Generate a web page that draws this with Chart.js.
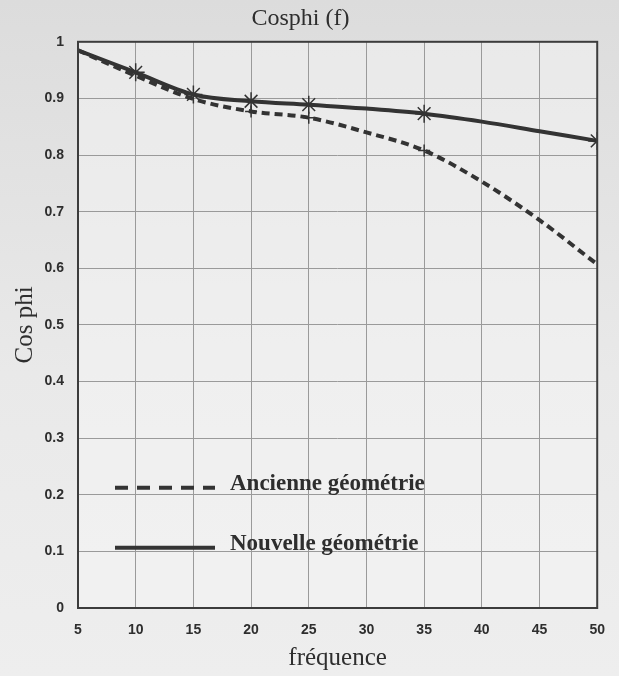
<!DOCTYPE html>
<html>
<head>
<meta charset="utf-8">
<script src="https://cdn.jsdelivr.net/npm/chart.js@4"></script>
<style>
  html, body { margin: 0; padding: 0; }
  body { background: linear-gradient(#dcdcdc, #e9e9e9 55%, #eeeeee); width: 619px; height: 676px; }
  canvas { display: block; }
</style>
</head>
<body>
<canvas id="chart" width="619" height="676"></canvas>
<script>
// frequencies (x) and cos phi values
const freq = [5, 10, 15, 20, 25, 30, 35, 40, 45, 50]
const nouvelle = [0.985, 0.946, 0.907, 0.895, 0.889, 0.882, 0.873, 0.859, 0.842, 0.825]
const ancienne = [0.985, 0.940, 0.899, 0.877, 0.866, 0.840, 0.808, 0.753, 0.685, 0.607]
// frequencies where a marker is drawn
const markedNouvelle = [10, 15, 20, 25, 35, 50]
const markedAncienne = [20, 25, 35]
const xTicks = [5, 10, 15, 20, 25, 30, 35, 40, 45, 50]
const yTicks = [0, 0.1, 0.2, 0.3, 0.4, 0.5, 0.6, 0.7, 0.8, 0.9, 1]

const ink = "#2e2e2e"
const serif = "'Liberation Serif', 'DejaVu Serif', serif"
const tickFont = { family: "'Liberation Sans', sans-serif", size: 14, weight: "bold" }

function points(values){
    return values.map((v, i) => ({x: freq[i], y: v}))
}

// plot area fill + frame on all four sides
const frame = {
    id: "frame",
    beforeDraw(chart){
        const a = chart.chartArea, c = chart.ctx
        c.save()
        c.fillStyle = "rgba(246,246,246,0.5)"
        c.fillRect(a.left, a.top, a.right - a.left, a.bottom - a.top)
        c.restore()
    },
    afterDraw(chart){
        const a = chart.chartArea, c = chart.ctx
        c.save()
        c.strokeStyle = "#3c3c3c"
        c.lineWidth = 2
        c.strokeRect(a.left, a.top, a.right - a.left, a.bottom - a.top)
        c.restore()
    }
}

// legend drawn inside the plot, lower left
const insideLegend = {
    id: "insideLegend",
    afterDatasetsDraw(chart){
        const a = chart.chartArea, c = chart.ctx
        const rows = [446, 506]
        c.save()
        chart.data.datasets.forEach((ds, i) => {
            const y = a.top + rows[i]
            c.strokeStyle = ds.borderColor
            c.lineWidth = 4
            c.setLineDash(ds.borderDash ? [13, 9] : [])
            c.beginPath()
            c.moveTo(a.left + 37, y)
            c.lineTo(a.left + 137, y)
            c.stroke()
            c.setLineDash([])
            c.fillStyle = ink
            c.font = "bold 23px " + serif
            c.textBaseline = "middle"
            c.fillText(ds.label, a.left + 152, y - 4)
        })
        c.restore()
    }
}

new Chart(document.getElementById("chart"), {
    type: "line",
    data: {
        datasets: [{
            label: "Ancienne géométrie",
            data: points(ancienne),
            borderColor: "#333333",
            borderWidth: 4,
            borderDash: [8, 5],
            cubicInterpolationMode: "monotone",
            pointStyle: "cross",
            pointRadius: ctx => markedAncienne.includes(freq[ctx.dataIndex]) ? 6 : 0,
            pointBorderColor: "#333333",
            pointBorderWidth: 1.5
        }, {
            label: "Nouvelle géométrie",
            data: points(nouvelle),
            borderColor: "#333333",
            borderWidth: 4,
            cubicInterpolationMode: "monotone",
            pointStyle: "star",
            pointRadius: ctx => markedNouvelle.includes(freq[ctx.dataIndex]) ? 9 : 0,
            pointBorderColor: "#333333",
            pointBorderWidth: 1.5
        }]
    },
    options: {
        responsive: false,
        animation: false,
        layout: { padding: { left: 0, right: 18, top: 0, bottom: 0 } },
        plugins: {
            legend: { display: false },
            tooltip: { enabled: false },
            title: {
                display: true,
                text: "Cosphi (f)",
                color: ink,
                font: { family: serif, size: 24, weight: "normal" },
                padding: { top: 4, bottom: 9 }
            }
        },
        scales: {
            x: {
                type: "linear",
                min: 5,
                max: 50,
                afterBuildTicks: axis => { axis.ticks = xTicks.map(v => ({value: v})) },
                afterFit: axis => { axis.height = 68 },
                grid: { color: "#9a9a9a", lineWidth: 1, drawTicks: false },
                border: { display: false },
                ticks: { color: ink, font: tickFont, padding: 14, maxRotation: 0 },
                title: { display: true, text: "fréquence", color: ink, font: { family: serif, size: 25 }, padding: { top: 0, bottom: 3 } }
            },
            y: {
                min: 0,
                max: 1,
                afterBuildTicks: axis => { axis.ticks = yTicks.map(v => ({value: v})) },
                afterFit: axis => { axis.width = 78 },
                grid: { color: "#9a9a9a", lineWidth: 1, drawTicks: false },
                border: { display: false },
                ticks: { color: ink, font: tickFont, padding: 14, callback: v => String(Number(v.toFixed(1))) },
                title: { display: true, text: "Cos phi", color: ink, font: { family: serif, size: 25 }, padding: { top: 10, bottom: 0 } }
            }
        }
    },
    plugins: [frame, insideLegend]
})
</script>
</body>
</html>
